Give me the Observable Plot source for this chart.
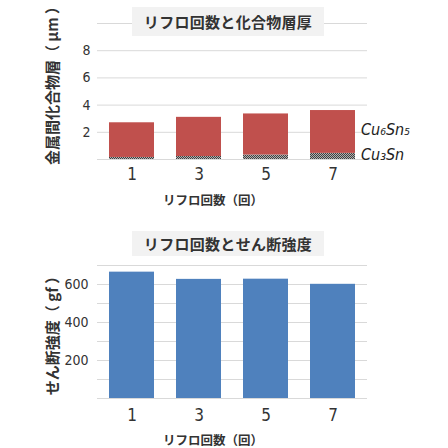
<!DOCTYPE html>
<html><head><meta charset="utf-8">
<script src="https://cdn.jsdelivr.net/npm/d3@7"></script>
<script src="https://cdn.jsdelivr.net/npm/@observablehq/plot@0.6"></script>
<style>
body{margin:0;background:#fff;}
#wrap{position:relative;width:448px;height:448px;overflow:hidden;}
.chart{position:absolute;left:0;}
.title{position:absolute;background:#f2f2f2;color:#333;font-family:"Noto Sans CJK JP",sans-serif;font-size:15px;font-weight:bold;letter-spacing:0.3px;white-space:nowrap;display:flex;align-items:center;justify-content:center;}
.ytitle{position:absolute;color:#333;font-family:"Noto Sans CJK JP",sans-serif;font-size:15px;font-weight:bold;white-space:nowrap;transform:translate(-50%,-50%) rotate(-90deg);line-height:1;}
.xtitle{position:absolute;color:#333;font-family:"Noto Sans CJK JP",sans-serif;font-size:12.5px;font-weight:bold;white-space:nowrap;transform:translate(-50%,-50%);line-height:1;}
</style></head><body>
<div id="wrap">
  <div id="top" class="chart" style="top:0"></div>
  <div id="bot" class="chart" style="top:224px"></div>
  <div id="t1" class="title" style="left:132px;top:7px;width:192px;height:29px;"></div>
  <div id="t2" class="title" style="left:132px;top:231px;width:192px;height:25px;"></div>
  <div id="y1" class="ytitle" style="left:51px;top:82px;"></div>
  <div id="y2" class="ytitle" style="left:51px;top:332px;"></div>
  <div id="x1" class="xtitle" style="left:213px;top:200px;"></div>
  <div id="x2" class="xtitle" style="left:213px;top:440px;"></div>
</div>
<script>
const cycles = ["1", "3", "5", "7"];
const cu3sn = [0.15, 0.22, 0.33, 0.45];
const cu6sn5 = [2.55, 2.88, 3.02, 3.15];
const shear = [665, 627, 628, 601];
const topTicks = [2, 4, 6, 8];
const topGrid = [0, 2, 4, 6, 8, 10];
const botTicks = [200, 400, 600];
const botGrid = [0, 100, 200, 300, 400, 500, 600, 700];
const layerLabels = ["Cu₆Sn₅", "Cu₃Sn"];
const topTitle = "リフロ回数と化合物層厚";
const botTitle = "リフロ回数とせん断強度";
const xTitle = "リフロ回数（回）";
const topYTitle = "金属間化合物層（ μm ）";
const botYTitle = "せん断強度（ gf ）";

document.getElementById("t1").textContent = topTitle;
document.getElementById("t2").textContent = botTitle;
document.getElementById("y1").textContent = topYTitle;
document.getElementById("y2").textContent = botYTitle;
document.getElementById("x1").textContent = xTitle;
document.getElementById("x2").textContent = xTitle;

const numFont = '"DejaVu Sans Condensed","Liberation Sans Narrow","Noto Sans CJK JP",sans-serif';

const last = cycles.length - 1;
const labelY = [cu3sn[last] + cu6sn5[last] / 2, cu3sn[last] / 2];

const xScale = {domain: cycles, paddingInner: 0.33, paddingOuter: 0.165, label: null};

const topPlot = Plot.plot({
  width: 448, height: 224,
  marginLeft: 97, marginRight: 81, marginTop: 23, marginBottom: 65,
  style: {fontFamily: numFont, color: "#333", background: "transparent", overflow: "visible"},
  x: xScale,
  y: {domain: [0, 10], label: null},
  marks: [
    Plot.ruleY(topGrid, {stroke: "#d9d9d9", strokeWidth: 1}),
    Plot.barY(cycles, {x: d => d, y1: 0, y2: (d, i) => cu3sn[i], fill: "url(#cu3snPat)", inset: 0}),
    Plot.barY(cycles, {x: d => d, y1: (d, i) => cu3sn[i], y2: (d, i) => cu3sn[i] + cu6sn5[i], fill: "#C0504D", inset: 0}),
    Plot.axisX({tickSize: 0, tickPadding: 8, fontSize: 17, label: null}),
    Plot.axisY(topTicks, {tickSize: 0, tickPadding: 7, fontSize: 14, label: null}),
    Plot.text(layerLabels, {x: () => cycles[last], y: (d, i) => labelY[i], dx: 28, dy: -2, textAnchor: "start", fontSize: 16, fontStyle: "italic", fontFamily: numFont, fill: "#222"})
  ]
});
d3.select(topPlot).insert("defs", ":first-child").html(
  '<pattern id="cu3snPat" width="2" height="2" patternUnits="userSpaceOnUse">' +
  '<rect width="2" height="2" fill="#b0b0b0"/><rect width="1" height="1" fill="#404040"/><rect x="1" y="1" width="1" height="1" fill="#404040"/></pattern>');
document.getElementById("top").appendChild(topPlot);

const botPlot = Plot.plot({
  width: 448, height: 224,
  marginLeft: 97, marginRight: 81, marginTop: 41, marginBottom: 50,
  style: {fontFamily: numFont, color: "#333", background: "transparent", overflow: "visible"},
  x: xScale,
  y: {domain: [0, 700], label: null},
  marks: [
    Plot.ruleY(botGrid, {stroke: "#d9d9d9", strokeWidth: 1}),
    Plot.barY(cycles, {x: d => d, y: (d, i) => shear[i], fill: "#4F81BD", inset: 0}),
    Plot.axisX({tickSize: 0, tickPadding: 10, fontSize: 17, label: null}),
    Plot.axisY(botTicks, {tickSize: 0, tickPadding: 9, fontSize: 14, label: null})
  ]
});
document.getElementById("bot").appendChild(botPlot);
</script>
</body></html>
